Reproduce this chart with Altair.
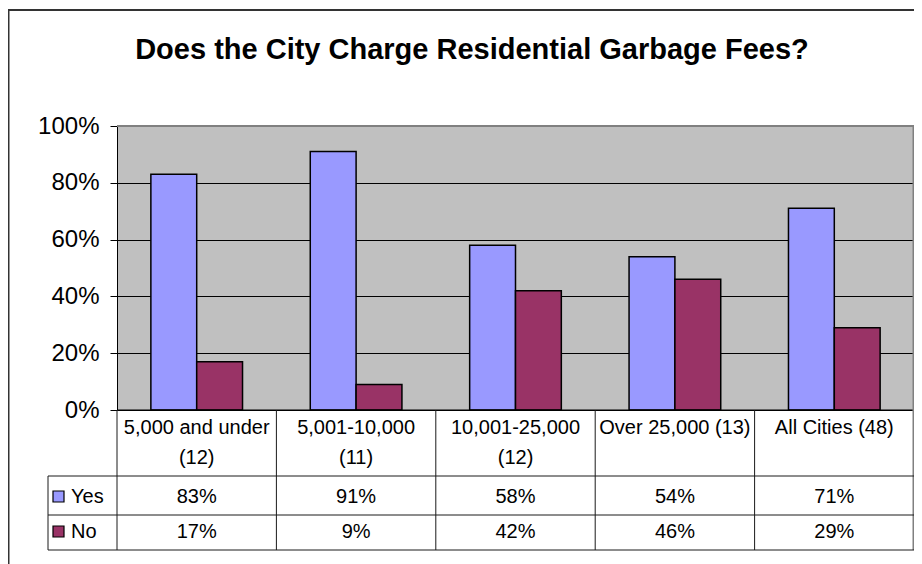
import altair as alt
import pandas as pd

# ---- data ----
categories = ["5,000 and under (12)", "5,001-10,000 (11)", "10,001-25,000 (12)",
              "Over 25,000 (13)", "All Cities (48)"]
header_line1 = ["5,000 and under", "5,001-10,000", "10,001-25,000",
                "Over 25,000 (13)", "All Cities (48)"]
header_line2 = ["(12)", "(11)", "(12)", "", ""]
series = ["Yes", "No"]
yes_values = [83, 91, 58, 54, 71]
no_values = [17, 9, 42, 46, 29]
y_ticks = [0, 20, 40, 60, 80, 100]
title_text = "Does the City Charge Residential Garbage Fees?"

colors = ["#9999FF", "#993366"]
FONT = "Liberation Sans"
LINE = "#1a1a1a"

bars_df = pd.DataFrame(
    [{"cat": c, "series": "Yes", "value": v} for c, v in zip(categories, yes_values)]
    + [{"cat": c, "series": "No", "value": v} for c, v in zip(categories, no_values)]
)
table_df = pd.DataFrame({
    "cat": categories,
    "line1": header_line1,
    "line2": header_line2,
    "yes": [f"{v}%" for v in yes_values],
    "no": [f"{v}%" for v in no_values],
})
one = pd.DataFrame({"k": [0]})

W, H = 797, 284

xcat = alt.X("cat:N", sort=categories,
             scale=alt.Scale(paddingInner=0, paddingOuter=0), axis=None)

bars = alt.Chart(bars_df).mark_bar(stroke="black", strokeWidth=1.5).encode(
    x=xcat,
    xOffset=alt.XOffset("series:N", sort=series,
                        scale=alt.Scale(paddingInner=0, paddingOuter=0.739)),
    y=alt.Y("value:Q", scale=alt.Scale(domain=[0, 100]),
            axis=alt.Axis(values=y_ticks, labelExpr="datum.value + '%'",
                          title=None, grid=True, gridColor="black", gridWidth=1,
                          domainColor="black", tickColor="black", tickSize=7,
                          labelFont=FONT, labelFontSize=24, labelColor="black",
                          labelPadding=11)),
    color=alt.Color("series:N", sort=series,
                    scale=alt.Scale(domain=series, range=colors), legend=None),
)

def rule(x, x2, y, y2, color=LINE, width=1):
    return alt.Chart(one).mark_rule(color=color, strokeWidth=width).encode(
        x=alt.value(x), x2=alt.value(x2), y=alt.value(y), y2=alt.value(y2))

# plot border (top & right, gray)
top_border = rule(0, W, 0, 0, color="#808080", width=2)
right_border = rule(W - 0.5, W - 0.5, 0, 424, color="#808080", width=2)
bottom_axis = rule(0, W, H, H, color="black", width=1)

# table grid
vlines = alt.Chart(table_df).mark_rule(color=LINE, strokeWidth=1).encode(
    x=alt.X("cat:N", sort=categories, bandPosition=0,
            scale=alt.Scale(paddingInner=0, paddingOuter=0), axis=None),
    y=alt.value(H), y2=alt.value(424))
legend_left = rule(-69, -69, 350, 424)
h1 = rule(-69, W, 350, 350)
h2 = rule(-69, W, 389, 389)
h3 = rule(-69, W, 424, 424)

def table_text(field, y):
    return alt.Chart(table_df).mark_text(font=FONT, fontSize=20, color="black",
                                         baseline="middle", align="center").encode(
        x=xcat, y=alt.value(y), text=f"{field}:N")

t1 = table_text("line1", 302)
t2 = table_text("line2", 332)
t_yes = table_text("yes", 370.5)
t_no = table_text("no", 405.5)

def legend_key(color, yc, label):
    sq = alt.Chart(one).mark_rect(fill=color, stroke="black", strokeWidth=1.2).encode(
        x=alt.value(-64), x2=alt.value(-53), y=alt.value(yc - 5.5), y2=alt.value(yc + 5.5))
    tx = alt.Chart(pd.DataFrame({"t": [label]})).mark_text(
        font=FONT, fontSize=20, color="black", align="left", baseline="middle").encode(
        x=alt.value(-46), y=alt.value(yc), text="t:N")
    return sq + tx

leg_yes = legend_key(colors[0], 370.5, series[0])
leg_no = legend_key(colors[1], 405.5, series[1])

title = alt.Chart(pd.DataFrame({"t": [title_text]})).mark_text(
    font=FONT, fontSize=29, fontWeight="bold", color="black",
    align="center", baseline="alphabetic").encode(
    x=alt.value(355), y=alt.value(-67), text="t:N")

frame = alt.Chart(one).mark_rect(fill=None, stroke="#333333", strokeWidth=2).encode(
    x=alt.value(-108.5), x2=alt.value(1000), y=alt.value(-116), y2=alt.value(1000))

chart = alt.layer(
    frame, bars, bottom_axis, top_border, right_border,
    vlines, legend_left, h1, h2, h3,
    t1, t2, t_yes, t_no, leg_yes, leg_no, title
).properties(
    width=W, height=H,
    padding={"left": 109, "top": 118, "right": 0, "bottom": 154},
    autosize=alt.AutoSizeParams(type="none"),
    background="white",
).configure_view(stroke=None, fill="#C0C0C0")

chart.save("out.html", embed_options={"renderer": "svg", "actions": False})
